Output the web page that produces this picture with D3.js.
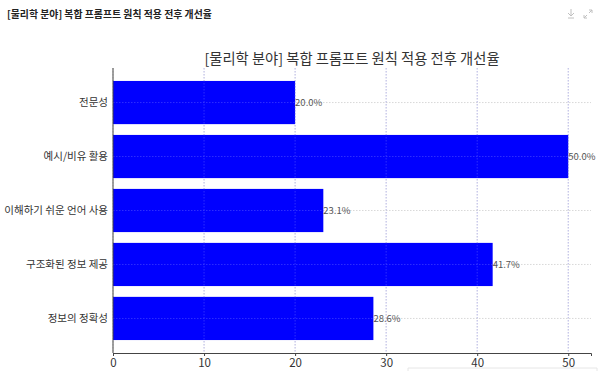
<!DOCTYPE html>
<html><head><meta charset="utf-8">
<script src="https://cdn.jsdelivr.net/npm/d3@7"></script>
<style>
body{margin:0;background:#fff;}
svg{display:block;font-family:"Noto Sans CJK KR","Noto Sans",sans-serif;}
</style></head>
<body><svg id="c" width="600" height="371"></svg>
<script>
const categories = ["전문성","예시/비유 활용","이해하기 쉬운 언어 사용","구조화된 정보 제공","정보의 정확성"];
const values = [20.0, 50.0, 23.1, 41.7, 28.6];
const xTicks = [0,10,20,30,40,50];
const title = "[물리학 분야] 복합 프롬프트 원칙 적용 전후 개선율";

const svg = d3.select("#c");
const L=113, R=591, T=68, B=353;

// header
svg.append("text").attr("x",7).attr("y",17.5).attr("font-size",9.9).attr("font-weight","bold")
  .attr("fill","#222").text(title);
// icons
const ic = svg.append("g").attr("stroke","#c0c0c0").attr("fill","none").attr("stroke-width",1);
ic.append("path").attr("d","M571,9 v7 M568,13 l3,3 l3,-3 M568,18 h6");
ic.append("path").attr("d","M584,18 l3,-3 M584,15 v3 h3 M592,10 l-3,3 M589,10 h3 v3");
// faint box edge at bottom
svg.append("path").attr("d","M408,371 V368 H597 V371").attr("stroke","#e6e6e6").attr("fill","none");

const x = d3.scaleLinear().domain([0,52.5]).range([L,R]);
const y = d3.scaleLinear().domain([-0.64,4.64]).range([B,T]);
const pos = i => categories.length-1-i;

// grid
const g = svg.append("g").attr("stroke","#cfcfcf").attr("stroke-width",0.8).attr("stroke-dasharray","1.5,1.5");
xTicks.forEach(t=>g.append("line").attr("x1",x(t)).attr("x2",x(t)).attr("y1",T).attr("y2",B));
categories.forEach((c,i)=>g.append("line").attr("x1",L).attr("x2",R).attr("y1",y(pos(i))).attr("y2",y(pos(i))));

// bars
svg.append("g").selectAll("rect").data(values).join("rect")
  .attr("x",x(0)).attr("y",(d,i)=>y(pos(i)+0.4))
  .attr("width",d=>x(d)-x(0)).attr("height",(d,i)=>y(pos(i)-0.4)-y(pos(i)+0.4))
  .attr("fill","#0000ff");

// grid over bars
const g2 = svg.append("g").attr("stroke","#8080ff").attr("stroke-width",0.6).attr("stroke-dasharray","1.5,1.5").attr("opacity",0.6);
xTicks.forEach(t=>{ if(t>0) g2.append("line").attr("x1",x(t)).attr("x2",x(t)).attr("y1",T).attr("y2",B);});
categories.forEach((c,i)=>g2.append("line").attr("x1",L).attr("x2",x(values[i])).attr("y1",y(pos(i))).attr("y2",y(pos(i))));

// value labels
svg.append("g").selectAll("text").data(values).join("text")
  .attr("x",d=>x(d)).attr("y",(d,i)=>y(pos(i))).attr("dy","0.35em")
  .attr("font-size",9.5).attr("fill","#555").text(d=>d.toFixed(1)+"%");

// axes
const xa = svg.append("g").attr("transform",`translate(0,${B})`)
  .call(d3.axisBottom(x).tickValues(xTicks).tickSize(3).tickPadding(3));
xa.select(".domain").attr("stroke","#444");
xa.selectAll("line").attr("stroke","#444");
xa.selectAll("text").attr("font-size",11.5).attr("fill","#333").attr("font-family","'Noto Sans CJK KR',sans-serif");

const ya = svg.append("g").attr("transform",`translate(${L},0)`)
  .call(d3.axisLeft(y).tickValues(categories.map((c,i)=>pos(i))).tickFormat(v=>categories[categories.length-1-v]).tickSize(0).tickPadding(5));
ya.select(".domain").attr("stroke","#444").attr("d",`M0,${T}V${B}`);
ya.selectAll("text").attr("font-size",10.5).attr("fill","#333").attr("font-family","'Noto Sans CJK KR',sans-serif");

// title
svg.append("text").attr("x",(L+R)/2).attr("y",64).attr("text-anchor","middle")
  .attr("font-size",14.3).attr("fill","#333").text(title);
</script></body></html>
